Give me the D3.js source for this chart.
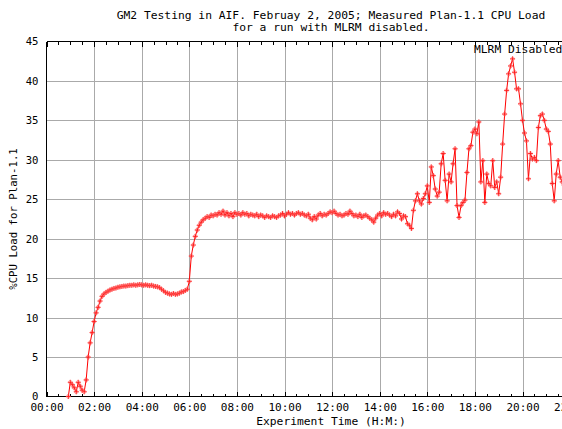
<!DOCTYPE html>
<html>
<head>
<meta charset="utf-8">
<script src="https://cdn.jsdelivr.net/npm/d3@7"></script>
<style>
html,body{margin:0;padding:0;background:#fff;overflow:hidden;}
svg{display:block;}
text{font-family:"DejaVu Sans Mono","Liberation Mono",monospace;fill:#000;}
</style>
</head>
<body>
<svg id="chart" width="562" height="429"></svg>
<script>
// ---- data ----
const titleLines = ["GM2 Testing in AIF. Februay 2, 2005; Measured Plan-1.1 CPU Load", "for a run with MLRM disabled."];
const xTitle = "Experiment Time (H:M:)";
const yTitle = "%CPU Load for Plan-1.1";
const seriesLabel = "MLRM Disabled";
const xTickHours = [0, 2, 4, 6, 8, 10, 12, 14, 16, 18, 20, 22];
const xTickLabels = ["00:00","02:00","04:00","06:00","08:00","10:00","12:00","14:00","16:00","18:00","20:00","22:00"];
const yTickValues = [0, 5, 10, 15, 20, 25, 30, 35, 40, 45];
const sampleStartMinutes = 55;   // first sample at 00:55
const sampleStepMinutes = 5;     // one sample every 5 minutes
const cpuLoad = [
0, 1.8, 1.5, 1.1, 0.6, 1.8, 1.3, 0.8, 0.6, 2.1,
5.0, 6.8, 8.1, 9.5, 10.6, 11.3, 12.1, 12.7, 13.0, 13.2,
13.35, 13.5, 13.6, 13.7, 13.75, 13.85, 13.9, 13.95, 14.0, 14.0,
14.05, 14.1, 14.1, 14.15, 14.1, 14.15, 14.2, 14.15, 14.1, 14.15,
14.1, 14.05, 14.1, 14.0, 13.95, 13.9, 13.8, 13.6, 13.4, 13.2,
13.1, 13.0, 12.95, 13.05, 12.95, 13.0, 13.1, 13.25, 13.3, 13.45,
13.6, 14.6, 17.8, 19.2, 20.3, 21.1, 21.7, 22.1, 22.4, 22.6,
22.8, 22.7, 23.0, 22.9, 23.1, 23.0, 23.3, 23.1, 23.5, 23.0,
23.3, 22.9, 23.2, 22.8, 23.3, 23.1, 23.2, 23.0, 23.3, 23.1,
23.2, 22.9, 23.1, 23.0, 22.9, 23.1, 22.8, 23.0, 22.9, 22.7,
22.9, 22.8, 22.7, 22.9, 22.8, 22.7, 22.9, 23.0, 23.2, 22.9,
23.1, 23.3, 23.1, 23.2, 23.0, 23.2, 23.3, 23.1, 23.2, 23.0,
22.9, 23.1, 22.6, 22.4, 22.8, 22.5, 23.0, 23.2, 22.9, 23.1,
23.0, 23.2, 23.4, 23.3, 23.5, 23.2, 23.0, 23.1, 22.9, 23.0,
23.2, 23.1, 23.5, 23.2, 22.9, 23.0, 22.8, 23.1, 22.7, 22.9,
23.0, 22.8, 22.6, 22.4, 22.1, 22.6, 23.0, 23.2, 22.9, 23.3,
23.1, 23.2, 23.0, 22.8, 23.1, 22.9, 23.4, 23.2, 22.5, 22.9,
22.8, 21.9, 21.7, 21.3, 23.6, 24.8, 25.7, 24.8, 24.4, 25.1,
25.7, 26.7, 24.6, 29.1, 28.0, 26.3, 25.4, 25.9, 29.5, 30.8,
27.4, 24.8, 28.2, 27.2, 29.5, 31.4, 24.2, 22.7, 24.2, 24.6,
24.9, 28.4, 31.4, 31.8, 33.5, 33.9, 33.3, 34.8, 27.2, 29.9,
24.6, 28.2, 27.0, 26.7, 29.9, 26.5, 27.2, 25.7, 27.8, 32.0,
35.8, 38.8, 40.9, 41.9, 42.8, 41.1, 39.0, 39.0, 37.1, 35.0,
33.4, 32.4, 27.6, 30.8, 30.1, 30.3, 29.9, 34.1, 35.6, 35.8,
35.0, 33.9, 33.6, 32.0, 27.0, 24.8, 28.2, 29.9, 27.8, 27.2,
26.8
];

// ---- layout ----
const svg = d3.select("#chart");
const pLeft = 46.5, pTop = 41.5, pBottom = 396.5, pRight = 46.5 + 23.8 * 24;
const x = d3.scaleLinear().domain([0, 24]).range([pLeft, pRight]);
const y = d3.scaleLinear().domain([0, 45]).range([pBottom, pTop]);

const points = cpuLoad.map((v, i) => ({t: (sampleStartMinutes + i * sampleStepMinutes) / 60, v}));

// grid
const grid = svg.append("g").attr("shape-rendering", "crispEdges");
grid.selectAll("line.gx").data(xTickHours.slice(1)).enter().append("line")
  .attr("x1", d => Math.round(x(d)) + 0.5).attr("x2", d => Math.round(x(d)) + 0.5)
  .attr("y1", pTop).attr("y2", pBottom).attr("stroke", "#aaaaaa").attr("stroke-width", 1);
grid.selectAll("line.gy").data(yTickValues.slice(1, -1)).enter().append("line")
  .attr("x1", pLeft).attr("x2", pRight)
  .attr("y1", d => Math.round(y(d)) + 0.5).attr("y2", d => Math.round(y(d)) + 0.5)
  .attr("stroke", "#aaaaaa").attr("stroke-width", 1);

// axes
const minorHours = d3.range(0, 24.01, 0.5);
const xBottom = d3.axisBottom(x).tickValues(xTickHours).tickFormat((d, i) => xTickLabels[i]).tickSize(0).tickPadding(7);
const gb = svg.append("g").attr("transform", `translate(0,${pBottom})`).call(xBottom);
gb.select(".domain").remove();
gb.selectAll("text").attr("font-size", "11px").attr("font-family", "DejaVu Sans Mono");

const gy = svg.append("g").attr("transform", `translate(${pLeft},0)`)
  .call(d3.axisLeft(y).tickValues(yTickValues).tickSize(0).tickPadding(8));
gy.select(".domain").remove();
gy.selectAll("text").attr("font-size", "10.6px").attr("font-family", "DejaVu Sans Mono");

const frame = svg.append("g").attr("shape-rendering", "crispEdges").attr("stroke", "#000").attr("stroke-width", 1);
frame.append("line").attr("x1", pLeft).attr("x2", pRight).attr("y1", pBottom).attr("y2", pBottom);
frame.append("line").attr("x1", pLeft).attr("x2", pRight).attr("y1", pTop).attr("y2", pTop);
frame.append("line").attr("x1", pLeft).attr("x2", pLeft).attr("y1", pTop).attr("y2", pBottom);
frame.selectAll("line.tb").data(minorHours).enter().append("line")
  .attr("x1", d => Math.round(x(d)) + 0.5).attr("x2", d => Math.round(x(d)) + 0.5)
  .attr("y1", pBottom).attr("y2", d => pBottom - (d % 2 === 0 ? 5 : 3));
frame.selectAll("line.tt").data(minorHours).enter().append("line")
  .attr("x1", d => Math.round(x(d)) + 0.5).attr("x2", d => Math.round(x(d)) + 0.5)
  .attr("y1", pTop).attr("y2", d => pTop + (d % 2 === 0 ? 5 : 3));

// series
const line = d3.line().x(d => x(d.t)).y(d => y(d.v));
svg.append("path").datum(points).attr("d", line)
  .attr("fill", "none").attr("stroke", "#ff0000").attr("stroke-width", 1);
const mk = svg.append("g");
mk.selectAll("path").data(points).enter().append("path")
  .attr("transform", d => `translate(${x(d.t)},${y(d.v)})`)
  .attr("d", "M-2.5,0H2.5M0,-2.5V2.5")
  .attr("stroke", "#ff2020").attr("stroke-width", 1).attr("fill", "none");
mk.selectAll("circle").data(points).enter().append("circle")
  .attr("cx", d => x(d.t)).attr("cy", d => y(d.v)).attr("r", 1.8)
  .attr("fill", "none").attr("stroke", "#ff6060").attr("stroke-width", 0.8).attr("opacity", 0.7);

// titles
svg.append("text").attr("x", 331).attr("y", 19).attr("text-anchor", "middle")
  .attr("font-size", "11.3px").text(titleLines[0]);
svg.append("text").attr("x", 331).attr("y", 31).attr("text-anchor", "middle")
  .attr("font-size", "11.3px").text(titleLines[1]);
svg.append("text").attr("x", 331).attr("y", 425).attr("text-anchor", "middle")
  .attr("font-size", "11.3px").text(xTitle);
svg.append("text").attr("transform", "translate(17,219) rotate(-90)").attr("text-anchor", "middle")
  .attr("font-size", "10.7px").text(yTitle);
svg.append("text").attr("x", 474).attr("y", 53).attr("font-size", "11.3px").text(seriesLabel);
</script>
</body>
</html>
